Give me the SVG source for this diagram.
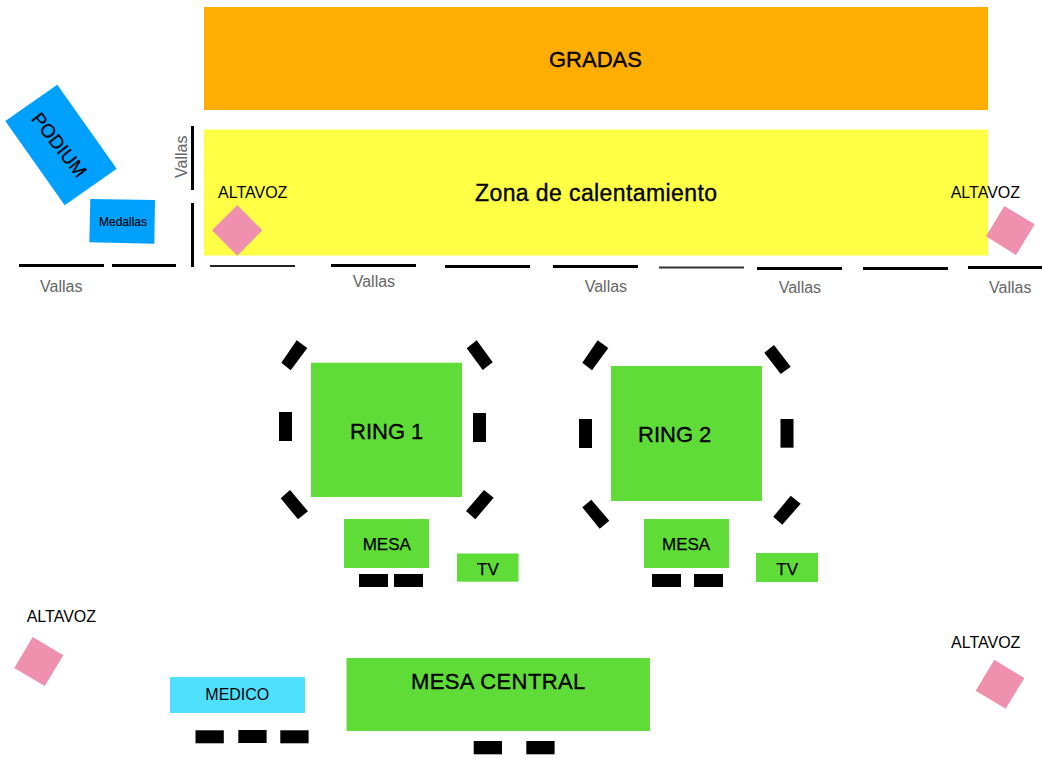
<svg xmlns="http://www.w3.org/2000/svg" width="1042" height="758" viewBox="0 0 1042 758">
<style>
text{font-family:"Liberation Sans",Arial,sans-serif;fill:#000}
.t16{font-size:16px}
.t17{font-size:17px;stroke:#000;stroke-width:.25px}
.t22{font-size:22px;stroke:#000;stroke-width:.35px}
.gray{font-size:16px;fill:#666}
.green{fill:#5fdc38}
.blue{fill:#00a0ff}
.pink{fill:#ee90ae}
.k{fill:#000}
</style>
<rect width="1042" height="758" fill="#fff"/>
<g id="gradas"><rect x="204" y="7" width="784" height="103" fill="#ffae00"/><text class="t22" x="549" y="66.7">GRADAS</text></g>
<g id="zona-calentamiento"><rect x="204" y="129.5" width="784" height="126" fill="#ffff45"/><text class="t22" style="font-size:23px;letter-spacing:.4px" x="475" y="200.7">Zona de calentamiento</text></g>
<g id="podium"><polygon class="blue" points="57.3,84.7 116.7,168.7 64.7,205.3 5.3,121"/><text class="t16" style="font-size:19px;stroke:#000;stroke-width:.2px" text-anchor="middle" transform="translate(54,149) rotate(52)">PODIUM</text></g>
<g id="medallas"><polygon class="blue" points="90.3,199 155,200 154.3,243.7 89.3,242.3"/><text style="font-size:12px;stroke:#000;stroke-width:.15px" x="99" y="225.7">Medallas</text></g>
<g id="vallas">
<rect class="k" x="191" y="126" width="3" height="64"/>
<rect class="k" x="191" y="203" width="3" height="64"/>
<rect class="k" x="19" y="264" width="85" height="3"/>
<rect class="k" x="112" y="264" width="64" height="3"/>
<rect x="210" y="265" width="85" height="2" fill="#222"/>
<rect class="k" x="331" y="264" width="85" height="3"/>
<rect class="k" x="445" y="265" width="85" height="3"/>
<rect class="k" x="553" y="265" width="85" height="3"/>
<rect x="659" y="266.5" width="85" height="2" fill="#333"/>
<rect class="k" x="757" y="267" width="85" height="3"/>
<rect class="k" x="863" y="267" width="85" height="3"/>
<rect class="k" x="968" y="266" width="74" height="3"/>
<text class="gray" transform="translate(186.5,178) rotate(-90)">Vallas</text>
<text class="gray" x="40" y="292.3">Vallas</text>
<text class="gray" x="352.7" y="286.7">Vallas</text>
<text class="gray" x="584.7" y="292">Vallas</text>
<text class="gray" x="778.7" y="293.3">Vallas</text>
<text class="gray" x="989" y="293.3">Vallas</text>
</g>
<g id="altavoz-1"><polygon class="pink" points="237.3,205 262.3,230.3 237.3,255.7 212,230.3"/><text class="t16" x="218" y="198">ALTAVOZ</text></g>
<g id="altavoz-2"><polygon class="pink" points="1004.3,206 1034.7,224.3 1016,255 986,236.3"/><text class="t16" x="950.7" y="198">ALTAVOZ</text></g>
<g id="altavoz-3"><polygon class="pink" points="32.7,637 63.3,655.3 44.7,686 14.3,668"/><text class="t16" x="26.7" y="622">ALTAVOZ</text></g>
<g id="altavoz-4"><polygon class="pink" points="994.3,659.7 1024.3,678 1005.7,708.7 975.7,690.7"/><text class="t16" x="951" y="647.7">ALTAVOZ</text></g>
<g id="ring-1"><rect class="green" x="311" y="362.7" width="151" height="134.3"/><text class="t22" x="350" y="438.7">RING 1</text>
<g class="k">
<polygon points="296.7,340.3 307.3,348 290.7,370.3 281.3,362.7"/>
<polygon points="476.7,340.3 492.7,362.3 482.7,370 466.7,348.3"/>
<polygon points="290,490 308,511.3 298,519.3 280.7,498.3"/>
<polygon points="484,490 493.7,497.7 475.3,519.3 466,511"/>
<rect x="279" y="412" width="13" height="29"/>
<rect x="473" y="413" width="13" height="29"/>
</g></g>
<g id="mesa-1"><rect class="green" x="344" y="519" width="85" height="49"/><text class="t17" x="362.7" y="550">MESA</text><rect class="k" x="359" y="574" width="29" height="13"/><rect class="k" x="394" y="574" width="29" height="13"/></g>
<g id="tv-1"><rect class="green" x="457" y="553.5" width="61.5" height="28.2"/><text class="t17" x="477" y="575">TV</text></g>
<g id="ring-2"><rect class="green" x="611" y="366" width="151" height="135"/><text class="t22" x="638" y="441.7">RING 2</text>
<g class="k">
<polygon points="597.7,340.3 608.3,348 592,370.3 582.3,362.7"/>
<polygon points="774,345 790.7,366.7 780.7,374 764.3,352.7"/>
<polygon points="591.3,499.7 609.3,520.7 599.7,528.7 582.3,507.3"/>
<polygon points="790.7,495.7 800.7,503.7 782.3,524.7 773.3,516.7"/>
<rect x="579" y="419" width="13" height="29"/>
<rect x="780.5" y="419" width="13" height="28.7"/>
</g></g>
<g id="mesa-2"><rect class="green" x="644" y="519" width="85" height="49"/><text class="t17" x="662" y="550">MESA</text><rect class="k" x="652" y="574" width="29" height="13"/><rect class="k" x="694" y="574" width="29" height="13"/></g>
<g id="tv-2"><rect class="green" x="756" y="553" width="62" height="29"/><text class="t17" x="776.3" y="575">TV</text></g>
<g id="medico"><rect x="170" y="677" width="135" height="36" fill="#50e0ff"/><text class="t16" x="205.3" y="700">MEDICO</text><rect class="k" x="195.5" y="730.3" width="28.3" height="13"/><rect class="k" x="238.3" y="730" width="28.3" height="13"/><rect class="k" x="280.3" y="730.3" width="28.3" height="13"/></g>
<g id="mesa-central"><rect class="green" x="346.5" y="658" width="303.5" height="73"/><text class="t22" style="letter-spacing:.4px" x="411" y="689.3">MESA CENTRAL</text><rect class="k" x="473.7" y="741" width="28.3" height="13.3"/><rect class="k" x="526.3" y="741" width="28.3" height="13.3"/></g>
</svg>
